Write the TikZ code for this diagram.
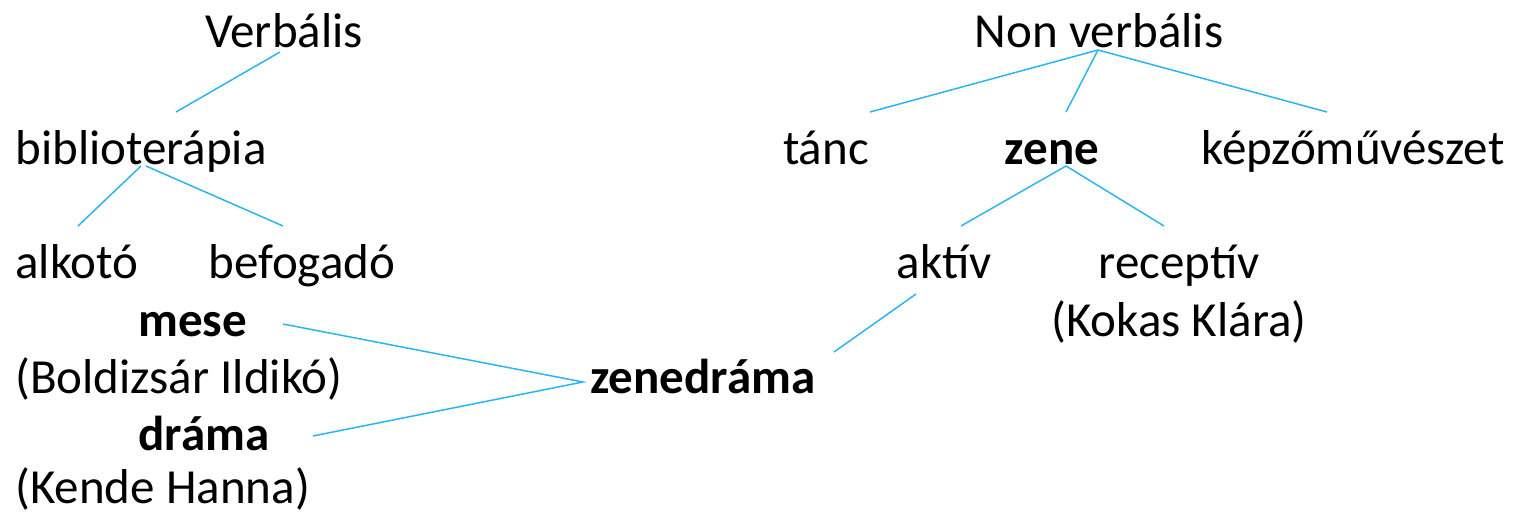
\documentclass[tikz,border=0pt]{standalone}
\usepackage{fontspec}
\setmainfont{Carlito}
\definecolor{linkblue}{RGB}{45,180,240}
\tikzset{
  lbl/.style={anchor=base, inner sep=0pt, font=\fontsize{24.5}{29}\selectfont},
  bold/.style={lbl, font=\fontsize{24.5}{29}\selectfont\bfseries},
  link/.style={draw=linkblue, line width=0.75pt}
}
\begin{document}
\begin{tikzpicture}[x=0.5pt, y=-0.5pt]
  \useasboundingbox (0,0) rectangle (1519,515);
  % verbal branch
  \node[lbl] (verbalis) at (284,47) {Verbális};
  \node[lbl, anchor=base west] (biblio) at (15,164) {biblioterápia};
  \node[lbl, anchor=base west] (alkoto) at (15,278) {alkotó};
  \node[lbl, anchor=base west] (befogado) at (208,278) {befogadó};
  \node[bold, anchor=base west] (mese) at (138,336) {mese};
  \node[lbl, anchor=base west] (boldizsar) at (15,393) {(Boldizsár Ildikó)};
  \node[bold, anchor=base west] (drama) at (138,450) {dráma};
  \node[lbl, anchor=base west] (kende) at (15,503) {(Kende Hanna)};
  \node[bold, anchor=base west] (zenedrama) at (590,393) {zenedráma};
  % non verbal branch
  \node[lbl] (nonverbalis) at (1099,47) {Non verbális};
  \node[lbl] (tanc) at (826,164) {tánc};
  \node[bold] (zene) at (1052,164) {zene};
  \node[lbl] (kepzo) at (1353,164) {képzőművészet};
  \node[lbl] (aktiv) at (944,278) {aktív};
  \node[lbl] (receptiv) at (1179,278) {receptív};
  \node[lbl] (kokas) at (1179,336) {(Kokas Klára)};
  % line ends
  \coordinate (verbalis-s) at (280,52);
  \coordinate (biblio-n) at (176,112);
  \coordinate (biblio-sl) at (141,166);
  \coordinate (biblio-sr) at (146,166);
  \coordinate (alkoto-n) at (78,226);
  \coordinate (befogado-n) at (283,226);
  \coordinate (mese-e) at (283,324);
  \coordinate (drama-e) at (313,436);
  \coordinate (zenedrama-w) at (583,382);
  \coordinate (zenedrama-ne) at (834,352);
  \coordinate (aktiv-s) at (916,294);
  \coordinate (nonverbalis-s) at (1098,50);
  \coordinate (tanc-n) at (870,112);
  \coordinate (zene-n) at (1066,112);
  \coordinate (kepzo-n) at (1327,112);
  \coordinate (zene-s) at (1066,166);
  \coordinate (aktiv-n) at (961,226);
  \coordinate (receptiv-n) at (1164,226);
  % connectors
  \draw[link] (verbalis-s) -- (biblio-n);
  \draw[link] (biblio-sl) -- (alkoto-n);
  \draw[link] (biblio-sr) -- (befogado-n);
  \draw[link] (mese-e) -- (zenedrama-w) -- (drama-e);
  \draw[link] (aktiv-s) -- (zenedrama-ne);
  \draw[link] (tanc-n) -- (nonverbalis-s) -- (kepzo-n);
  \draw[link] (nonverbalis-s) -- (zene-n);
  \draw[link] (aktiv-n) -- (zene-s) -- (receptiv-n);
\end{tikzpicture}
\end{document}
